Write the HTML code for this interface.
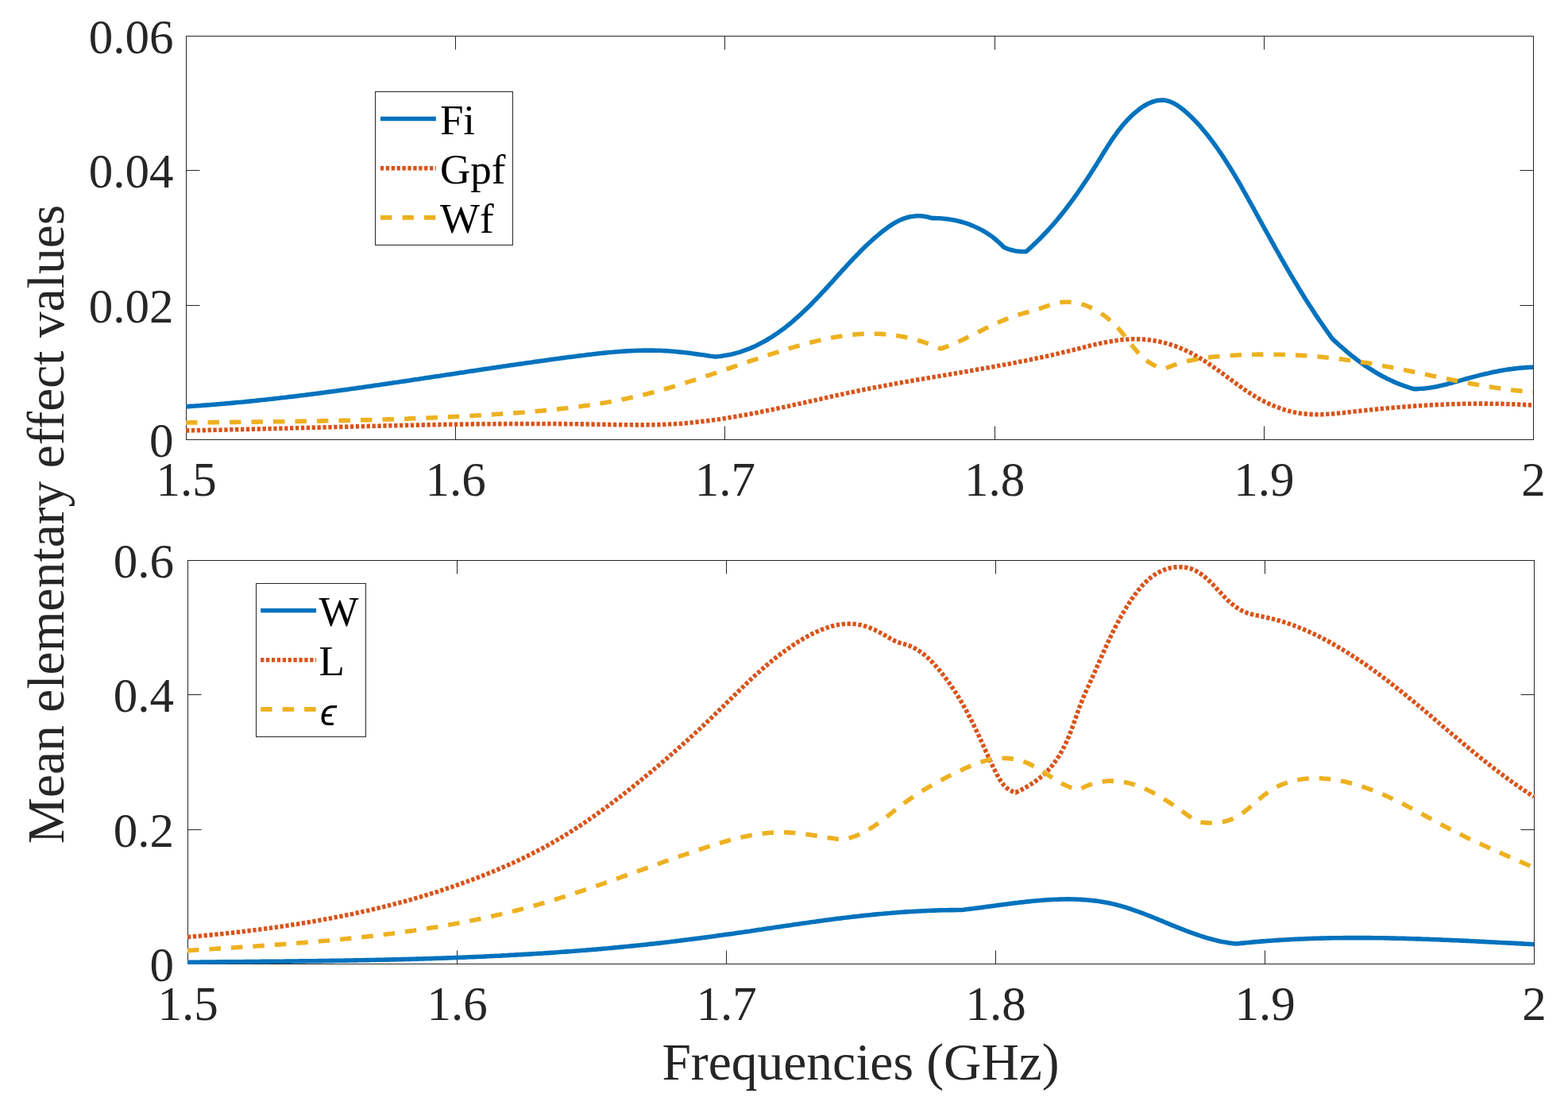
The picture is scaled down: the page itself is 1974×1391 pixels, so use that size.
<!DOCTYPE html>
<html><head><meta charset="utf-8"><title>Mean elementary effect values</title>
<style>
html,body{margin:0;padding:0;background:#fff;overflow:hidden;}
svg{display:block;}
.tk{font-family:"Liberation Serif",serif;font-size:61px;fill:#262626;}
.lg{font-family:"Liberation Serif",serif;font-size:53px;fill:#000;}
.eps{font-family:"Liberation Sans",sans-serif;font-style:italic;font-size:47px;fill:#000;}
.lb{font-family:"Liberation Serif",serif;font-size:65.5px;fill:#262626;}
</style></head><body>
<svg width="1974" height="1391" viewBox="0 0 1974 1391">
<defs>
<clipPath id="c1"><rect x="234" y="45" width="1697" height="511"/></clipPath>
<clipPath id="c2"><rect x="236" y="705" width="1696" height="511"/></clipPath>
</defs>
<rect width="1974" height="1391" fill="#fff"/>
<rect x="234.5" y="45.5" width="1696" height="508" fill="#fff" stroke="#262626" stroke-width="1"/>
<path d="M234.5 553.5V536.5M234.5 45.5V62.5M573.5 553.5V536.5M573.5 45.5V62.5M912.5 553.5V536.5M912.5 45.5V62.5M1252.5 553.5V536.5M1252.5 45.5V62.5M1591.5 553.5V536.5M1591.5 45.5V62.5M1930.5 553.5V536.5M1930.5 45.5V62.5M234.5 553.5H251.5M1930.5 553.5H1913.5M234.5 384.5H251.5M1930.5 384.5H1913.5M234.5 214.5H251.5M1930.5 214.5H1913.5M234.5 45.5H251.5M1930.5 45.5H1913.5" stroke="#262626" stroke-width="1" fill="none"/>
<text x="234.5" y="623.5" text-anchor="middle" class="tk">1.5</text>
<text x="573.7" y="623.5" text-anchor="middle" class="tk">1.6</text>
<text x="912.9" y="623.5" text-anchor="middle" class="tk">1.7</text>
<text x="1252.1" y="623.5" text-anchor="middle" class="tk">1.8</text>
<text x="1591.3" y="623.5" text-anchor="middle" class="tk">1.9</text>
<text x="1930.5" y="623.5" text-anchor="middle" class="tk">2</text>
<text x="218.5" y="575.0" text-anchor="end" class="tk">0</text>
<text x="218.5" y="405.7" text-anchor="end" class="tk">0.02</text>
<text x="218.5" y="236.3" text-anchor="end" class="tk">0.04</text>
<text x="218.5" y="67.0" text-anchor="end" class="tk">0.06</text>
<rect x="236.5" y="705.5" width="1695" height="508" fill="#fff" stroke="#262626" stroke-width="1"/>
<path d="M236.5 1213.5V1196.5M236.5 705.5V722.5M575.5 1213.5V1196.5M575.5 705.5V722.5M914.5 1213.5V1196.5M914.5 705.5V722.5M1253.5 1213.5V1196.5M1253.5 705.5V722.5M1592.5 1213.5V1196.5M1592.5 705.5V722.5M1931.5 1213.5V1196.5M1931.5 705.5V722.5M236.5 1213.5H253.5M1931.5 1213.5H1914.5M236.5 1044.5H253.5M1931.5 1044.5H1914.5M236.5 874.5H253.5M1931.5 874.5H1914.5M236.5 705.5H253.5M1931.5 705.5H1914.5" stroke="#262626" stroke-width="1" fill="none"/>
<text x="236.5" y="1283.5" text-anchor="middle" class="tk">1.5</text>
<text x="575.5" y="1283.5" text-anchor="middle" class="tk">1.6</text>
<text x="914.5" y="1283.5" text-anchor="middle" class="tk">1.7</text>
<text x="1253.5" y="1283.5" text-anchor="middle" class="tk">1.8</text>
<text x="1592.5" y="1283.5" text-anchor="middle" class="tk">1.9</text>
<text x="1931.5" y="1283.5" text-anchor="middle" class="tk">2</text>
<text x="219" y="1235.0" text-anchor="end" class="tk">0</text>
<text x="219" y="1065.7" text-anchor="end" class="tk">0.2</text>
<text x="219" y="896.3" text-anchor="end" class="tk">0.4</text>
<text x="219" y="727.0" text-anchor="end" class="tk">0.6</text>
<g clip-path="url(#c1)"><path d="M234.0 511.8L237.0 511.6L240.0 511.4L243.0 511.2L246.0 511.0L249.0 510.8L252.1 510.6L255.1 510.3L258.1 510.1L261.1 509.9L264.1 509.7L267.1 509.4L270.1 509.2L273.1 508.9L276.1 508.7L279.1 508.4L282.1 508.2L285.1 507.9L288.1 507.6L291.1 507.4L294.1 507.1L297.1 506.8L300.1 506.5L303.1 506.2L306.1 506.0L309.1 505.7L312.1 505.4L315.1 505.1L318.1 504.8L321.0 504.5L324.0 504.1L327.0 503.8L330.0 503.5L333.0 503.2L336.0 502.9L339.0 502.5L342.0 502.2L345.0 501.9L348.0 501.5L351.0 501.2L353.9 500.8L356.9 500.5L359.9 500.2L362.9 499.8L365.9 499.4L368.9 499.1L371.9 498.7L374.9 498.4L377.8 498.0L380.8 497.6L383.8 497.3L386.8 496.9L389.8 496.5L392.8 496.1L395.8 495.7L398.7 495.4L401.7 495.0L404.7 494.6L407.7 494.2L410.7 493.8L413.7 493.4L416.6 493.0L419.6 492.6L422.6 492.2L425.6 491.8L428.6 491.4L431.5 491.0L434.5 490.6L437.5 490.2L440.5 489.8L443.5 489.3L446.4 488.9L449.4 488.5L452.4 488.1L455.4 487.7L458.4 487.2L461.3 486.8L464.3 486.4L467.3 486.0L470.3 485.5L473.2 485.1L476.2 484.7L479.2 484.2L482.2 483.8L485.2 483.4L488.1 482.9L491.1 482.5L494.1 482.1L497.1 481.6L500.0 481.2L503.0 480.7L506.0 480.3L509.0 479.9L511.9 479.4L514.9 479.0L517.9 478.5L520.9 478.1L523.8 477.6L526.8 477.2L529.8 476.7L532.8 476.3L535.7 475.8L538.7 475.4L541.7 474.9L544.7 474.5L547.6 474.0L550.6 473.6L553.6 473.2L556.6 472.7L559.5 472.3L562.5 471.8L565.5 471.4L568.5 470.9L571.5 470.5L574.4 470.0L577.4 469.6L580.4 469.1L583.4 468.7L586.3 468.2L589.3 467.8L592.3 467.3L595.3 466.9L598.2 466.4L601.2 466.0L604.2 465.5L607.2 465.1L610.1 464.6L613.1 464.2L616.1 463.8L619.1 463.3L622.1 462.9L625.0 462.4L628.0 462.0L631.0 461.6L634.0 461.1L636.9 460.7L639.9 460.2L642.9 459.8L645.9 459.4L648.9 458.9L651.8 458.5L654.8 458.1L657.8 457.7L660.8 457.2L663.8 456.8L666.7 456.4L669.7 456.0L672.7 455.5L675.7 455.1L678.7 454.7L681.7 454.3L684.6 453.9L687.6 453.5L690.6 453.1L693.6 452.6L696.6 452.2L699.6 451.8L702.5 451.4L705.5 451.0L708.5 450.6L711.5 450.2L714.5 449.8L717.5 449.4L720.5 449.1L723.4 448.7L726.4 448.3L729.4 447.9L732.4 447.5L735.4 447.2L738.4 446.8L741.4 446.4L744.4 446.1L747.3 445.7L750.3 445.4L753.3 445.0L756.3 444.7L759.3 444.4L762.3 444.1L765.3 443.8L768.3 443.5L771.3 443.3L774.3 443.0L777.3 442.8L780.3 442.5L783.3 442.3L786.3 442.1L789.2 441.9L792.2 441.8L795.2 441.6L798.2 441.5L801.2 441.4L804.2 441.3L807.2 441.2L810.2 441.1L813.2 441.1L816.2 441.1L819.2 441.1L822.2 441.1L825.2 441.2L828.2 441.2L831.2 441.3L834.2 441.5L837.2 441.6L840.2 441.8L843.2 442.0L846.2 442.2L849.2 442.5L852.2 442.8L855.2 443.1L858.2 443.4L861.2 443.7L864.2 444.0L867.2 444.4L870.2 444.8L873.2 445.2L876.2 445.6L879.2 446.0L882.1 446.4L885.1 446.8L888.1 447.3L891.1 447.7L894.1 448.2L897.0 448.6L900.0 449.1L903.1 448.8L906.2 448.5L909.3 448.1L912.3 447.6L915.4 447.1L918.3 446.5L921.3 445.9L924.2 445.2L927.2 444.4L930.0 443.6L932.9 442.7L935.7 441.7L938.5 440.7L941.3 439.7L944.1 438.6L946.8 437.4L949.5 436.2L952.2 434.9L954.9 433.6L957.5 432.3L960.1 430.9L962.7 429.5L965.3 428.0L967.9 426.4L970.4 424.9L972.9 423.3L975.4 421.6L977.9 420.0L980.3 418.3L982.8 416.5L985.2 414.7L987.6 412.9L989.9 411.1L992.3 409.2L994.6 407.3L997.0 405.4L999.3 403.4L1001.5 401.4L1003.8 399.4L1006.1 397.4L1008.3 395.4L1010.5 393.3L1012.7 391.2L1014.9 389.1L1017.1 387.0L1019.2 384.9L1021.4 382.7L1023.5 380.6L1025.6 378.4L1027.7 376.2L1029.8 374.1L1031.9 371.9L1033.9 369.7L1036.0 367.4L1038.1 365.2L1040.1 363.0L1042.1 360.8L1044.1 358.6L1046.2 356.3L1048.2 354.1L1050.2 351.9L1052.2 349.6L1054.2 347.4L1056.2 345.2L1058.3 343.0L1060.3 340.7L1062.3 338.5L1064.3 336.3L1066.3 334.1L1068.4 331.9L1070.4 329.7L1072.5 327.5L1074.5 325.3L1076.6 323.2L1078.7 321.0L1080.8 318.9L1082.9 316.7L1085.0 314.6L1087.1 312.5L1089.3 310.4L1091.5 308.3L1093.7 306.3L1095.9 304.2L1098.1 302.2L1100.4 300.2L1102.6 298.2L1104.9 296.3L1107.3 294.3L1109.6 292.4L1112.0 290.5L1114.4 288.7L1116.8 286.9L1119.3 285.1L1121.8 283.4L1124.3 281.8L1126.9 280.3L1129.5 278.9L1132.2 277.5L1134.9 276.3L1137.6 275.2L1140.4 274.3L1143.2 273.5L1146.1 272.8L1149.0 272.4L1152.0 272.0L1154.9 271.8L1157.9 271.8L1160.9 272.0L1164.0 272.4L1167.0 272.9L1170.1 273.7L1173.1 274.6L1176.2 274.6L1179.2 274.7L1182.3 274.8L1185.3 275.0L1188.4 275.3L1191.4 275.6L1194.4 276.0L1197.4 276.5L1200.4 277.0L1203.4 277.6L1206.3 278.3L1209.3 279.0L1212.2 279.8L1215.1 280.7L1218.0 281.7L1220.8 282.7L1223.6 283.8L1226.4 285.0L1229.1 286.2L1231.9 287.5L1234.5 288.9L1237.2 290.3L1239.8 291.8L1242.4 293.4L1244.9 295.1L1247.4 296.8L1249.9 298.6L1252.2 300.5L1254.6 302.5L1256.9 304.5L1259.2 306.6L1261.4 308.8L1263.5 311.0L1266.4 312.4L1269.5 313.6L1272.6 314.5L1275.7 315.3L1278.9 315.9L1282.2 316.4L1285.4 316.6L1288.7 316.7L1291.9 316.6L1294.2 314.6L1296.4 312.6L1298.6 310.6L1300.8 308.5L1303.0 306.4L1305.2 304.3L1307.3 302.2L1309.5 300.1L1311.6 298.0L1313.6 295.8L1315.7 293.6L1317.8 291.5L1319.8 289.3L1321.8 287.0L1323.8 284.8L1325.8 282.5L1327.7 280.3L1329.7 278.0L1331.6 275.7L1333.5 273.4L1335.4 271.1L1337.3 268.7L1339.1 266.4L1341.0 264.0L1342.8 261.7L1344.6 259.3L1346.4 256.9L1348.2 254.5L1350.0 252.1L1351.8 249.6L1353.5 247.2L1355.3 244.8L1357.0 242.3L1358.7 239.8L1360.4 237.4L1362.1 234.9L1363.8 232.4L1365.5 229.9L1367.2 227.4L1368.8 224.9L1370.5 222.4L1372.1 219.9L1373.8 217.3L1375.4 214.8L1377.0 212.3L1378.6 209.7L1380.2 207.2L1381.8 204.6L1383.4 202.0L1385.0 199.5L1386.6 196.9L1388.1 194.3L1389.7 191.8L1391.3 189.2L1392.9 186.7L1394.5 184.1L1396.1 181.6L1397.8 179.1L1399.4 176.6L1401.1 174.1L1402.8 171.6L1404.6 169.2L1406.3 166.7L1408.1 164.3L1410.0 162.0L1411.8 159.6L1413.7 157.3L1415.7 155.0L1417.7 152.8L1419.8 150.5L1421.9 148.4L1424.1 146.2L1426.3 144.1L1428.6 142.1L1431.0 140.1L1433.4 138.2L1435.8 136.3L1438.3 134.6L1440.9 133.0L1443.5 131.5L1446.1 130.1L1448.8 129.0L1451.5 128.0L1454.2 127.2L1456.9 126.6L1459.6 126.2L1462.4 126.0L1465.1 126.1L1467.8 126.5L1470.6 127.2L1473.3 128.1L1476.0 129.3L1478.7 130.6L1481.4 132.2L1484.0 133.9L1486.6 135.8L1489.1 137.8L1491.6 139.8L1494.0 141.9L1496.4 144.1L1498.7 146.3L1500.9 148.4L1503.1 150.6L1505.2 152.8L1507.3 155.0L1509.3 157.2L1511.3 159.4L1513.2 161.7L1515.1 163.9L1517.0 166.2L1518.9 168.5L1520.7 170.8L1522.6 173.2L1524.4 175.5L1526.2 177.9L1527.9 180.3L1529.7 182.7L1531.4 185.1L1533.1 187.5L1534.8 190.0L1536.5 192.4L1538.2 194.9L1539.9 197.4L1541.5 199.9L1543.1 202.4L1544.7 204.9L1546.3 207.4L1547.9 210.0L1549.5 212.5L1551.1 215.1L1552.6 217.7L1554.2 220.2L1555.7 222.8L1557.2 225.4L1558.8 228.0L1560.3 230.6L1561.8 233.2L1563.3 235.8L1564.8 238.5L1566.2 241.1L1567.7 243.7L1569.2 246.3L1570.7 249.0L1572.1 251.6L1573.6 254.3L1575.1 256.9L1576.5 259.5L1578.0 262.2L1579.4 264.8L1580.9 267.5L1582.3 270.1L1583.8 272.7L1585.2 275.4L1586.7 278.0L1588.1 280.7L1589.6 283.3L1591.0 285.9L1592.5 288.6L1593.9 291.2L1595.4 293.8L1596.9 296.4L1598.3 299.1L1599.8 301.7L1601.2 304.3L1602.7 306.9L1604.2 309.6L1605.6 312.2L1607.1 314.8L1608.6 317.4L1610.1 320.0L1611.5 322.6L1613.0 325.2L1614.5 327.8L1616.0 330.4L1617.5 333.0L1619.0 335.6L1620.5 338.2L1622.0 340.8L1623.5 343.4L1625.0 346.0L1626.6 348.6L1628.1 351.1L1629.6 353.7L1631.2 356.3L1632.7 358.8L1634.3 361.4L1635.8 364.0L1637.4 366.5L1638.9 369.1L1640.5 371.6L1642.1 374.2L1643.7 376.7L1645.3 379.2L1646.9 381.8L1648.5 384.3L1650.2 386.8L1651.8 389.3L1653.4 391.8L1655.1 394.4L1656.7 396.9L1658.4 399.4L1660.1 401.9L1661.8 404.3L1663.5 406.8L1665.2 409.3L1666.9 411.8L1668.6 414.2L1670.3 416.7L1672.1 419.2L1673.9 421.6L1675.6 424.1L1677.4 426.5L1679.6 428.6L1681.8 430.6L1684.1 432.7L1686.3 434.7L1688.6 436.7L1690.9 438.7L1693.2 440.7L1695.5 442.7L1697.9 444.6L1700.2 446.6L1702.6 448.5L1705.0 450.3L1707.4 452.2L1709.9 454.0L1712.3 455.8L1714.8 457.6L1717.3 459.4L1719.8 461.1L1722.3 462.8L1724.9 464.4L1727.5 466.0L1730.0 467.6L1732.6 469.2L1735.3 470.7L1737.9 472.2L1740.6 473.7L1743.3 475.1L1746.0 476.5L1748.7 477.8L1751.4 479.1L1754.2 480.4L1757.0 481.6L1759.8 482.7L1762.6 483.9L1765.5 484.9L1768.3 486.0L1771.2 486.9L1774.1 487.9L1777.0 488.8L1780.0 489.6L1783.0 489.6L1786.0 489.5L1789.0 489.3L1791.9 489.1L1794.9 488.8L1797.8 488.4L1800.8 488.0L1803.7 487.5L1806.7 487.0L1809.6 486.4L1812.5 485.8L1815.4 485.1L1818.3 484.4L1821.2 483.7L1824.1 482.9L1827.0 482.2L1829.9 481.4L1832.8 480.6L1835.7 479.8L1838.6 478.9L1841.5 478.1L1844.4 477.3L1847.3 476.5L1850.2 475.7L1853.1 474.9L1856.0 474.1L1858.9 473.4L1861.8 472.6L1864.7 471.9L1867.7 471.2L1870.6 470.5L1873.5 469.9L1876.4 469.2L1879.4 468.6L1882.3 468.0L1885.3 467.4L1888.2 466.8L1891.2 466.3L1894.1 465.8L1897.1 465.3L1900.1 464.9L1903.0 464.5L1906.0 464.1L1909.0 463.7L1912.0 463.4L1915.0 463.1L1918.0 462.9L1921.0 462.6L1924.0 462.5L1927.0 462.3L1930.0 462.2" fill="none" stroke="#0072BD" stroke-width="5.6" stroke-linejoin="round"/><path d="M234.0 542.0L237.0 541.9L240.0 541.9L243.0 541.8L246.0 541.8L249.0 541.7L252.0 541.7L255.0 541.6L258.0 541.6L261.0 541.5L264.0 541.4L267.0 541.4L270.0 541.3L273.0 541.2L276.0 541.2L279.0 541.1L282.0 541.0L285.0 541.0L288.0 540.9L291.0 540.8L294.0 540.8L297.0 540.7L300.0 540.6L303.0 540.6L306.0 540.5L309.0 540.4L312.0 540.4L315.0 540.3L318.0 540.2L321.0 540.1L324.0 540.1L327.0 540.0L330.0 539.9L333.0 539.8L336.0 539.8L339.0 539.7L342.0 539.6L345.0 539.5L348.0 539.5L351.0 539.4L354.0 539.3L357.0 539.2L360.0 539.2L363.0 539.1L366.0 539.0L369.0 538.9L372.0 538.8L375.0 538.8L378.0 538.7L381.0 538.6L384.0 538.5L387.0 538.5L390.0 538.4L393.0 538.3L396.0 538.2L399.0 538.1L402.0 538.1L405.0 538.0L408.0 537.9L411.0 537.8L414.0 537.7L417.0 537.7L420.0 537.6L423.0 537.5L426.0 537.4L429.0 537.4L432.0 537.3L435.0 537.2L438.0 537.1L441.0 537.0L444.0 537.0L447.0 536.9L450.0 536.8L453.0 536.7L456.0 536.7L459.0 536.6L462.0 536.5L465.0 536.4L468.0 536.4L471.0 536.3L474.0 536.2L477.0 536.2L480.0 536.1L483.0 536.0L486.0 535.9L489.0 535.9L492.0 535.8L495.0 535.7L498.0 535.7L501.0 535.6L504.0 535.5L507.0 535.5L510.0 535.4L513.0 535.3L516.0 535.3L519.0 535.2L522.0 535.2L525.0 535.1L528.0 535.0L531.0 535.0L534.0 534.9L537.0 534.9L540.0 534.8L543.0 534.7L546.0 534.7L549.0 534.6L552.0 534.6L555.0 534.5L558.0 534.5L561.0 534.4L564.0 534.4L567.0 534.3L570.0 534.3L573.0 534.2L576.0 534.2L579.0 534.1L582.0 534.1L585.0 534.1L588.0 534.0L591.0 534.0L594.0 533.9L597.0 533.9L600.0 533.9L603.0 533.8L606.0 533.8L609.0 533.8L612.0 533.7L615.0 533.7L618.0 533.7L621.0 533.7L624.1 533.6L627.1 533.6L630.1 533.6L633.1 533.6L636.1 533.6L639.1 533.5L642.1 533.5L645.1 533.5L648.1 533.5L651.1 533.5L654.1 533.5L657.1 533.5L660.1 533.5L663.1 533.5L666.1 533.5L669.1 533.5L672.1 533.5L675.1 533.5L678.1 533.5L681.1 533.5L684.1 533.5L687.1 533.5L690.1 533.5L693.1 533.5L696.1 533.5L699.1 533.5L702.1 533.6L705.1 533.6L708.1 533.6L711.1 533.6L714.1 533.7L717.1 533.7L720.1 533.7L723.1 533.7L726.1 533.8L729.1 533.8L732.1 533.9L735.1 533.9L738.1 533.9L741.1 534.0L744.1 534.0L747.1 534.1L750.1 534.1L753.1 534.2L756.1 534.2L759.1 534.3L762.1 534.4L765.1 534.4L768.1 534.5L771.1 534.5L774.1 534.6L777.1 534.6L780.1 534.7L783.2 534.7L786.2 534.8L789.2 534.8L792.2 534.8L795.2 534.8L798.2 534.9L801.2 534.9L804.2 534.9L807.2 534.9L810.2 534.9L813.2 534.8L816.2 534.8L819.1 534.8L822.1 534.7L825.1 534.7L828.1 534.6L831.1 534.5L834.1 534.4L837.1 534.3L840.1 534.1L843.1 534.0L846.1 533.8L849.1 533.7L852.1 533.5L855.1 533.3L858.1 533.1L861.1 532.8L864.0 532.6L867.0 532.3L870.0 532.0L873.0 531.7L876.0 531.4L879.0 531.1L881.9 530.8L884.9 530.4L887.9 530.1L890.9 529.7L893.9 529.3L896.8 528.9L899.8 528.5L902.8 528.1L905.7 527.7L908.7 527.2L911.7 526.8L914.7 526.3L917.6 525.8L920.6 525.3L923.5 524.9L926.5 524.3L929.5 523.8L932.4 523.3L935.4 522.8L938.3 522.3L941.3 521.7L944.2 521.2L947.2 520.6L950.1 520.0L953.1 519.5L956.0 518.9L959.0 518.3L961.9 517.7L964.9 517.1L967.8 516.5L970.8 515.9L973.7 515.3L976.6 514.7L979.6 514.0L982.5 513.4L985.5 512.8L988.4 512.1L991.3 511.5L994.3 510.9L997.2 510.2L1000.1 509.6L1003.1 508.9L1006.0 508.3L1008.9 507.6L1011.9 507.0L1014.8 506.3L1017.7 505.6L1020.7 505.0L1023.6 504.3L1026.5 503.7L1029.5 503.0L1032.4 502.4L1035.3 501.7L1038.3 501.1L1041.2 500.4L1044.1 499.8L1047.1 499.1L1050.0 498.5L1052.9 497.8L1055.9 497.2L1058.8 496.5L1061.7 495.9L1064.7 495.3L1067.6 494.6L1070.5 494.0L1073.5 493.4L1076.4 492.8L1079.3 492.2L1082.3 491.6L1085.2 491.0L1088.1 490.4L1091.1 489.8L1094.0 489.2L1096.9 488.6L1099.9 488.0L1102.8 487.5L1105.8 486.9L1108.7 486.4L1111.7 485.8L1114.6 485.3L1117.5 484.7L1120.5 484.2L1123.4 483.6L1126.4 483.1L1129.3 482.6L1132.3 482.0L1135.2 481.5L1138.2 481.0L1141.1 480.5L1144.0 479.9L1147.0 479.4L1149.9 478.9L1152.9 478.4L1155.8 477.9L1158.8 477.4L1161.7 476.9L1164.7 476.4L1167.6 475.9L1170.6 475.4L1173.5 474.9L1176.5 474.4L1179.4 473.9L1182.4 473.4L1185.3 472.9L1188.3 472.4L1191.2 471.9L1194.2 471.4L1197.1 470.9L1200.1 470.4L1203.0 469.9L1206.0 469.4L1208.9 468.9L1211.9 468.4L1214.8 467.9L1217.8 467.4L1220.7 466.9L1223.7 466.4L1226.7 465.9L1229.6 465.3L1232.6 464.8L1235.5 464.3L1238.5 463.8L1241.4 463.3L1244.4 462.8L1247.3 462.2L1250.3 461.7L1253.2 461.2L1256.2 460.6L1259.1 460.1L1262.1 459.5L1265.0 459.0L1268.0 458.4L1270.9 457.9L1273.9 457.3L1276.8 456.8L1279.8 456.2L1282.7 455.6L1285.6 455.0L1288.6 454.4L1291.5 453.9L1294.5 453.3L1297.4 452.7L1300.4 452.0L1303.3 451.4L1306.3 450.8L1309.2 450.2L1312.2 449.6L1315.1 448.9L1318.0 448.3L1321.0 447.6L1323.9 447.0L1326.9 446.3L1329.8 445.6L1332.7 444.9L1335.7 444.2L1338.6 443.5L1341.6 442.8L1344.5 442.1L1347.4 441.4L1350.4 440.7L1353.3 439.9L1356.2 439.2L1359.2 438.5L1362.1 437.7L1365.1 437.0L1368.0 436.2L1370.9 435.5L1373.9 434.8L1376.8 434.1L1379.7 433.4L1382.7 432.8L1385.6 432.1L1388.5 431.5L1391.5 430.9L1394.4 430.4L1397.4 429.9L1400.3 429.4L1403.2 428.9L1406.2 428.5L1409.1 428.1L1412.1 427.8L1415.0 427.5L1418.0 427.2L1420.9 427.1L1423.9 426.9L1426.9 426.8L1429.8 426.8L1432.8 426.9L1435.8 427.0L1438.7 427.1L1441.7 427.4L1444.7 427.6L1447.6 428.0L1450.6 428.4L1453.5 428.9L1456.5 429.4L1459.4 430.0L1462.4 430.7L1465.3 431.4L1468.2 432.1L1471.1 433.0L1473.9 433.8L1476.8 434.8L1479.6 435.7L1482.4 436.8L1485.2 437.9L1488.0 439.0L1490.7 440.2L1493.5 441.5L1496.2 442.8L1498.8 444.1L1501.5 445.5L1504.1 447.0L1506.7 448.5L1509.3 450.0L1511.8 451.5L1514.4 453.1L1516.9 454.7L1519.4 456.4L1521.9 458.1L1524.4 459.7L1526.9 461.5L1529.4 463.2L1531.8 465.0L1534.3 466.7L1536.7 468.5L1539.2 470.3L1541.6 472.1L1544.1 473.9L1546.5 475.7L1549.0 477.5L1551.4 479.3L1553.9 481.1L1556.3 482.9L1558.8 484.7L1561.2 486.5L1563.7 488.2L1566.2 490.0L1568.7 491.7L1571.2 493.3L1573.7 495.0L1576.3 496.6L1578.8 498.2L1581.4 499.7L1584.0 501.3L1586.6 502.7L1589.2 504.1L1591.8 505.5L1594.5 506.8L1597.2 508.1L1599.9 509.3L1602.6 510.5L1605.4 511.6L1608.1 512.7L1610.9 513.7L1613.7 514.7L1616.5 515.6L1619.4 516.4L1622.2 517.2L1625.1 517.9L1627.9 518.6L1630.8 519.2L1633.7 519.7L1636.6 520.2L1639.5 520.6L1642.5 520.9L1645.4 521.2L1648.3 521.4L1651.3 521.6L1654.3 521.7L1657.2 521.8L1660.2 521.7L1663.2 521.7L1666.2 521.6L1669.2 521.5L1672.2 521.3L1675.2 521.1L1678.2 520.9L1681.2 520.6L1684.2 520.3L1687.2 520.0L1690.2 519.7L1693.2 519.4L1696.2 519.1L1699.3 518.7L1702.3 518.4L1705.3 518.0L1708.3 517.7L1711.3 517.4L1714.3 517.0L1717.3 516.7L1720.3 516.4L1723.3 516.1L1726.3 515.8L1729.3 515.5L1732.3 515.2L1735.3 514.9L1738.3 514.6L1741.3 514.3L1744.3 514.0L1747.3 513.7L1750.3 513.5L1753.3 513.2L1756.3 513.0L1759.3 512.7L1762.3 512.5L1765.3 512.2L1768.3 512.0L1771.3 511.8L1774.3 511.6L1777.2 511.3L1780.2 511.1L1783.2 510.9L1786.2 510.7L1789.2 510.6L1792.2 510.4L1795.2 510.2L1798.1 510.0L1801.1 509.9L1804.1 509.7L1807.1 509.6L1810.1 509.4L1813.1 509.3L1816.1 509.2L1819.0 509.0L1822.0 508.9L1825.0 508.8L1828.0 508.7L1831.0 508.6L1834.0 508.5L1837.0 508.5L1839.9 508.4L1842.9 508.3L1845.9 508.3L1848.9 508.2L1851.9 508.2L1854.9 508.2L1857.9 508.1L1860.9 508.1L1863.9 508.1L1866.9 508.1L1869.9 508.1L1872.9 508.1L1875.8 508.2L1878.8 508.2L1881.8 508.2L1884.8 508.3L1887.8 508.3L1890.8 508.4L1893.8 508.5L1896.9 508.6L1899.9 508.7L1902.9 508.8L1905.9 508.9L1908.9 509.0L1911.9 509.1L1914.9 509.3L1917.9 509.4L1920.9 509.6L1924.0 509.7L1927.0 509.9L1930.0 510.1" fill="none" stroke="#D95319" stroke-width="5.6" stroke-linejoin="round" stroke-dasharray="4.3 2.6"/><path d="M234.0 532.0L237.0 532.0L240.0 531.9L243.0 531.9L246.0 531.9L249.0 531.8L252.0 531.8L255.0 531.8L258.1 531.8L261.1 531.7L264.1 531.7L267.1 531.7L270.1 531.6L273.1 531.6L276.1 531.6L279.1 531.6L282.1 531.5L285.1 531.5L288.1 531.5L291.1 531.4L294.1 531.4L297.1 531.4L300.1 531.3L303.1 531.3L306.1 531.3L309.1 531.2L312.1 531.2L315.1 531.2L318.1 531.1L321.1 531.1L324.1 531.1L327.1 531.0L330.1 531.0L333.1 531.0L336.1 530.9L339.1 530.9L342.1 530.9L345.1 530.8L348.1 530.8L351.1 530.8L354.1 530.7L357.1 530.7L360.1 530.6L363.1 530.6L366.1 530.5L369.1 530.5L372.1 530.5L375.1 530.4L378.1 530.4L381.1 530.3L384.1 530.3L387.1 530.2L390.1 530.2L393.1 530.1L396.1 530.1L399.1 530.0L402.1 530.0L405.1 529.9L408.0 529.9L411.0 529.8L414.0 529.7L417.0 529.7L420.0 529.6L423.0 529.6L426.0 529.5L429.0 529.4L432.0 529.4L435.0 529.3L438.0 529.2L441.0 529.2L444.0 529.1L447.0 529.0L450.0 529.0L453.0 528.9L456.0 528.8L459.0 528.7L462.0 528.6L465.0 528.6L468.0 528.5L471.0 528.4L473.9 528.3L476.9 528.2L479.9 528.1L482.9 528.0L485.9 528.0L488.9 527.9L491.9 527.8L494.9 527.7L497.9 527.6L500.9 527.5L503.9 527.4L506.9 527.3L509.9 527.2L512.9 527.1L515.9 526.9L518.9 526.8L521.9 526.7L524.9 526.6L527.9 526.5L530.9 526.4L533.9 526.2L536.8 526.1L539.8 526.0L542.8 525.9L545.8 525.7L548.8 525.6L551.8 525.5L554.8 525.3L557.8 525.2L560.8 525.1L563.8 524.9L566.8 524.8L569.8 524.6L572.8 524.5L575.8 524.3L578.8 524.2L581.8 524.0L584.8 523.8L587.8 523.7L590.8 523.5L593.8 523.4L596.8 523.2L599.8 523.0L602.8 522.8L605.8 522.7L608.8 522.5L611.8 522.3L614.8 522.1L617.8 521.9L620.8 521.7L623.8 521.5L626.8 521.3L629.8 521.1L632.8 520.9L635.8 520.7L638.8 520.5L641.8 520.3L644.8 520.1L647.8 519.9L650.8 519.7L653.8 519.4L656.8 519.2L659.8 519.0L662.8 518.7L665.8 518.5L668.8 518.2L671.8 518.0L674.8 517.7L677.8 517.4L680.8 517.2L683.8 516.9L686.8 516.6L689.8 516.3L692.8 516.0L695.7 515.7L698.7 515.4L701.7 515.1L704.7 514.7L707.7 514.4L710.7 514.0L713.7 513.7L716.6 513.3L719.6 513.0L722.6 512.6L725.6 512.2L728.6 511.8L731.5 511.4L734.5 511.0L737.5 510.6L740.4 510.2L743.4 509.7L746.4 509.3L749.3 508.8L752.3 508.4L755.2 507.9L758.2 507.4L761.2 506.9L764.1 506.4L767.1 505.9L770.0 505.4L772.9 504.8L775.9 504.3L778.8 503.7L781.8 503.1L784.7 502.5L787.6 501.9L790.5 501.3L793.5 500.7L796.4 500.1L799.3 499.4L802.2 498.8L805.1 498.1L808.0 497.4L811.0 496.7L813.9 496.0L816.8 495.3L819.7 494.5L822.5 493.8L825.4 493.0L828.3 492.2L831.2 491.4L834.1 490.6L837.0 489.8L839.8 489.0L842.7 488.1L845.6 487.3L848.5 486.4L851.3 485.6L854.2 484.7L857.1 483.8L859.9 482.9L862.8 482.0L865.6 481.1L868.5 480.2L871.4 479.3L874.2 478.4L877.1 477.5L879.9 476.5L882.8 475.6L885.6 474.6L888.5 473.7L891.3 472.7L894.2 471.8L897.0 470.8L899.9 469.8L902.7 468.9L905.5 467.9L908.4 466.9L911.2 465.9L914.1 465.0L916.9 464.0L919.8 463.0L922.6 462.0L925.5 461.1L928.3 460.1L931.2 459.1L934.0 458.1L936.9 457.1L939.7 456.2L942.6 455.2L945.4 454.2L948.3 453.3L951.1 452.3L954.0 451.4L956.8 450.4L959.7 449.5L962.5 448.5L965.4 447.6L968.3 446.6L971.1 445.7L974.0 444.8L976.9 443.9L979.8 443.0L982.6 442.1L985.5 441.2L988.4 440.3L991.3 439.4L994.1 438.5L997.0 437.7L999.9 436.8L1002.8 436.0L1005.7 435.2L1008.6 434.3L1011.5 433.5L1014.4 432.8L1017.3 432.0L1020.2 431.2L1023.1 430.5L1026.1 429.8L1029.0 429.1L1031.9 428.4L1034.8 427.7L1037.7 427.1L1040.7 426.4L1043.6 425.9L1046.5 425.3L1049.4 424.7L1052.4 424.2L1055.3 423.7L1058.2 423.2L1061.2 422.8L1064.1 422.4L1067.1 422.0L1070.0 421.7L1073.0 421.4L1075.9 421.1L1078.8 420.8L1081.8 420.6L1084.7 420.4L1087.7 420.3L1090.6 420.2L1093.6 420.1L1096.5 420.1L1099.5 420.1L1102.5 420.2L1105.4 420.3L1108.4 420.4L1111.3 420.6L1114.3 420.8L1117.2 421.1L1120.2 421.4L1123.1 421.8L1126.1 422.1L1129.0 422.6L1132.0 423.1L1134.9 423.6L1137.9 424.1L1140.8 424.7L1143.7 425.4L1146.7 426.1L1149.6 426.8L1152.5 427.6L1155.4 428.4L1158.4 429.3L1161.3 430.2L1164.2 431.1L1167.1 432.1L1170.0 433.2L1172.8 434.2L1175.7 435.4L1178.6 436.5L1181.4 437.7L1184.3 439.0L1187.1 438.0L1189.9 437.0L1192.7 436.0L1195.4 434.9L1198.2 433.7L1200.9 432.6L1203.7 431.4L1206.4 430.2L1209.1 428.9L1211.8 427.7L1214.6 426.4L1217.3 425.1L1220.0 423.8L1222.7 422.4L1225.4 421.1L1228.1 419.8L1230.8 418.4L1233.5 417.1L1236.1 415.7L1238.9 414.4L1241.6 413.1L1244.3 411.8L1247.0 410.5L1249.7 409.2L1252.4 407.9L1255.2 406.7L1257.9 405.4L1260.7 404.2L1263.4 403.1L1266.2 401.9L1269.0 400.9L1271.8 399.8L1274.6 398.8L1277.4 397.8L1280.2 396.9L1283.1 396.0L1286.0 395.1L1288.8 394.3L1291.7 393.5L1294.6 392.7L1297.5 391.9L1300.4 391.1L1303.3 390.2L1306.2 389.3L1309.1 388.4L1312.0 387.4L1314.8 386.4L1317.7 385.3L1320.6 384.4L1323.5 383.4L1326.4 382.6L1329.2 381.8L1332.2 381.2L1335.1 380.7L1338.0 380.4L1341.0 380.2L1343.9 380.2L1346.9 380.3L1349.8 380.6L1352.7 380.9L1355.6 381.4L1358.5 382.1L1361.4 382.8L1364.2 383.7L1367.1 384.7L1369.8 385.7L1372.6 386.9L1375.3 388.2L1378.0 389.6L1380.7 391.0L1383.3 392.6L1385.9 394.2L1388.4 396.0L1390.9 397.8L1393.3 399.6L1395.7 401.6L1398.0 403.6L1400.3 405.6L1402.5 407.8L1404.7 409.9L1406.8 412.2L1408.9 414.5L1410.9 416.8L1412.8 419.1L1414.7 421.5L1416.6 423.9L1418.4 426.3L1420.3 428.6L1422.1 431.0L1424.0 433.4L1425.8 435.7L1427.7 438.0L1429.6 440.3L1431.5 442.5L1433.5 444.7L1435.5 446.8L1437.6 448.8L1439.7 450.8L1441.9 452.6L1444.2 454.4L1446.6 456.1L1449.0 457.6L1451.6 459.1L1454.3 460.4L1457.1 461.6L1460.0 462.6L1463.1 463.5L1466.3 464.2L1469.1 463.0L1471.9 461.8L1474.7 460.8L1477.5 459.7L1480.4 458.8L1483.2 457.8L1486.1 457.0L1488.9 456.2L1491.8 455.4L1494.7 454.7L1497.6 454.0L1500.6 453.4L1503.5 452.8L1506.4 452.2L1509.4 451.7L1512.3 451.2L1515.3 450.8L1518.3 450.4L1521.2 450.0L1524.2 449.6L1527.2 449.3L1530.2 449.0L1533.2 448.7L1536.2 448.4L1539.2 448.2L1542.2 448.0L1545.2 447.7L1548.3 447.5L1551.3 447.4L1554.3 447.2L1557.3 447.0L1560.3 446.9L1563.3 446.7L1566.4 446.6L1569.4 446.5L1572.4 446.4L1575.4 446.3L1578.5 446.2L1581.5 446.2L1584.5 446.1L1587.5 446.1L1590.6 446.1L1593.6 446.1L1596.6 446.1L1599.6 446.1L1602.6 446.1L1605.6 446.2L1608.7 446.2L1611.7 446.3L1614.7 446.4L1617.7 446.5L1620.7 446.6L1623.7 446.7L1626.7 446.8L1629.7 447.0L1632.7 447.1L1635.7 447.3L1638.7 447.4L1641.7 447.6L1644.7 447.8L1647.7 448.0L1650.7 448.3L1653.7 448.5L1656.7 448.8L1659.7 449.0L1662.7 449.3L1665.7 449.6L1668.7 449.9L1671.7 450.2L1674.7 450.5L1677.7 450.8L1680.6 451.2L1683.6 451.5L1686.6 451.9L1689.6 452.3L1692.6 452.7L1695.6 453.1L1698.5 453.5L1701.5 453.9L1704.5 454.3L1707.5 454.8L1710.4 455.2L1713.4 455.7L1716.4 456.2L1719.3 456.6L1722.3 457.1L1725.3 457.6L1728.2 458.2L1731.2 458.7L1734.2 459.2L1737.1 459.8L1740.1 460.3L1743.0 460.9L1746.0 461.4L1749.0 462.0L1751.9 462.6L1754.9 463.1L1757.8 463.7L1760.8 464.3L1763.7 464.9L1766.7 465.5L1769.7 466.1L1772.6 466.7L1775.6 467.3L1778.5 467.9L1781.5 468.5L1784.4 469.2L1787.4 469.8L1790.3 470.4L1793.3 471.0L1796.2 471.6L1799.2 472.2L1802.1 472.9L1805.1 473.5L1808.1 474.1L1811.0 474.7L1814.0 475.3L1816.9 475.9L1819.9 476.5L1822.8 477.1L1825.8 477.7L1828.7 478.3L1831.7 478.9L1834.7 479.5L1837.6 480.1L1840.6 480.7L1843.5 481.2L1846.5 481.8L1849.5 482.4L1852.4 482.9L1855.4 483.5L1858.4 484.0L1861.3 484.5L1864.3 485.0L1867.3 485.6L1870.2 486.1L1873.2 486.5L1876.2 487.0L1879.2 487.5L1882.1 488.0L1885.1 488.4L1888.1 488.9L1891.1 489.3L1894.1 489.7L1897.0 490.1L1900.0 490.5L1903.0 490.9L1906.0 491.2L1909.0 491.6L1912.0 491.9L1915.0 492.2L1918.0 492.5L1921.0 492.8L1924.0 493.1L1927.0 493.4L1930.0 493.6" fill="none" stroke="#EDB120" stroke-width="5.6" stroke-linejoin="round" stroke-dasharray="14.5 13"/></g>
<g clip-path="url(#c2)"><path d="M236.0 1211.3L239.0 1211.3L242.0 1211.2L245.0 1211.2L248.0 1211.2L251.0 1211.2L254.0 1211.1L257.0 1211.1L260.0 1211.1L263.0 1211.0L266.0 1211.0L269.0 1211.0L272.0 1211.0L275.1 1210.9L278.1 1210.9L281.1 1210.9L284.1 1210.9L287.1 1210.8L290.1 1210.8L293.1 1210.8L296.1 1210.7L299.1 1210.7L302.1 1210.7L305.1 1210.7L308.1 1210.6L311.1 1210.6L314.1 1210.6L317.1 1210.6L320.1 1210.5L323.1 1210.5L326.2 1210.5L329.2 1210.4L332.2 1210.4L335.2 1210.4L338.2 1210.4L341.2 1210.3L344.2 1210.3L347.2 1210.3L350.2 1210.2L353.2 1210.2L356.2 1210.2L359.2 1210.1L362.2 1210.1L365.2 1210.1L368.3 1210.0L371.3 1210.0L374.3 1210.0L377.3 1209.9L380.3 1209.9L383.3 1209.9L386.3 1209.8L389.3 1209.8L392.3 1209.7L395.3 1209.7L398.3 1209.7L401.3 1209.6L404.4 1209.6L407.4 1209.5L410.4 1209.5L413.4 1209.5L416.4 1209.4L419.4 1209.4L422.4 1209.3L425.4 1209.3L428.4 1209.2L431.4 1209.2L434.4 1209.1L437.4 1209.1L440.5 1209.0L443.5 1209.0L446.5 1208.9L449.5 1208.9L452.5 1208.8L455.5 1208.8L458.5 1208.7L461.5 1208.6L464.5 1208.6L467.5 1208.5L470.5 1208.5L473.6 1208.4L476.6 1208.3L479.6 1208.3L482.6 1208.2L485.6 1208.1L488.6 1208.1L491.6 1208.0L494.6 1207.9L497.6 1207.9L500.6 1207.8L503.6 1207.7L506.6 1207.6L509.7 1207.5L512.7 1207.5L515.7 1207.4L518.7 1207.3L521.7 1207.2L524.7 1207.1L527.7 1207.0L530.7 1207.0L533.7 1206.9L536.7 1206.8L539.7 1206.7L542.7 1206.6L545.7 1206.5L548.7 1206.4L551.8 1206.3L554.8 1206.2L557.8 1206.1L560.8 1206.0L563.8 1205.9L566.8 1205.8L569.8 1205.7L572.8 1205.5L575.8 1205.4L578.8 1205.3L581.8 1205.2L584.8 1205.1L587.8 1205.0L590.8 1204.8L593.8 1204.7L596.8 1204.6L599.9 1204.5L602.9 1204.3L605.9 1204.2L608.9 1204.1L611.9 1203.9L614.9 1203.8L617.9 1203.6L620.9 1203.5L623.9 1203.3L626.9 1203.2L629.9 1203.1L632.9 1202.9L635.9 1202.7L638.9 1202.6L641.9 1202.4L644.9 1202.3L647.9 1202.1L650.9 1201.9L653.9 1201.8L656.9 1201.6L659.9 1201.4L662.9 1201.3L665.9 1201.1L668.9 1200.9L671.9 1200.7L674.9 1200.5L677.9 1200.3L680.9 1200.2L683.9 1200.0L686.9 1199.8L689.9 1199.6L692.9 1199.4L695.9 1199.2L698.9 1199.0L701.9 1198.8L704.9 1198.5L707.9 1198.3L710.9 1198.1L713.9 1197.9L716.9 1197.7L719.9 1197.5L722.9 1197.2L725.9 1197.0L728.9 1196.8L731.9 1196.5L734.9 1196.3L737.9 1196.1L740.9 1195.8L743.9 1195.6L746.9 1195.3L749.9 1195.1L752.9 1194.8L755.9 1194.6L758.9 1194.3L761.9 1194.0L764.9 1193.8L767.9 1193.5L770.9 1193.2L773.9 1192.9L776.8 1192.7L779.8 1192.4L782.8 1192.1L785.8 1191.8L788.8 1191.5L791.8 1191.2L794.8 1190.9L797.8 1190.6L800.8 1190.3L803.8 1190.0L806.8 1189.7L809.8 1189.4L812.7 1189.1L815.7 1188.7L818.7 1188.4L821.7 1188.1L824.7 1187.8L827.7 1187.4L830.7 1187.1L833.7 1186.7L836.7 1186.4L839.6 1186.0L842.6 1185.7L845.6 1185.3L848.6 1185.0L851.6 1184.6L854.6 1184.3L857.6 1183.9L860.5 1183.5L863.5 1183.1L866.5 1182.8L869.5 1182.4L872.5 1182.0L875.5 1181.6L878.4 1181.2L881.4 1180.9L884.4 1180.5L887.4 1180.1L890.4 1179.7L893.4 1179.3L896.3 1178.9L899.3 1178.5L902.3 1178.1L905.3 1177.6L908.3 1177.2L911.2 1176.8L914.2 1176.4L917.2 1176.0L920.2 1175.6L923.2 1175.2L926.1 1174.7L929.1 1174.3L932.1 1173.9L935.1 1173.5L938.0 1173.0L941.0 1172.6L944.0 1172.2L947.0 1171.7L950.0 1171.3L952.9 1170.8L955.9 1170.4L958.9 1170.0L961.9 1169.5L964.8 1169.1L967.8 1168.6L970.8 1168.2L973.8 1167.8L976.7 1167.3L979.7 1166.9L982.7 1166.4L985.7 1166.0L988.6 1165.6L991.6 1165.1L994.6 1164.7L997.6 1164.2L1000.5 1163.8L1003.5 1163.4L1006.5 1162.9L1009.5 1162.5L1012.4 1162.1L1015.4 1161.7L1018.4 1161.2L1021.4 1160.8L1024.3 1160.4L1027.3 1160.0L1030.3 1159.6L1033.3 1159.2L1036.2 1158.8L1039.2 1158.4L1042.2 1158.0L1045.2 1157.6L1048.2 1157.2L1051.1 1156.8L1054.1 1156.4L1057.1 1156.1L1060.1 1155.7L1063.1 1155.3L1066.0 1155.0L1069.0 1154.6L1072.0 1154.3L1075.0 1153.9L1078.0 1153.6L1081.0 1153.3L1083.9 1152.9L1086.9 1152.6L1089.9 1152.3L1092.9 1152.0L1095.9 1151.7L1098.9 1151.4L1101.9 1151.1L1104.9 1150.8L1107.8 1150.5L1110.8 1150.3L1113.8 1150.0L1116.8 1149.7L1119.8 1149.5L1122.8 1149.2L1125.8 1149.0L1128.8 1148.8L1131.8 1148.5L1134.8 1148.3L1137.8 1148.1L1140.8 1147.9L1143.8 1147.7L1146.8 1147.5L1149.8 1147.4L1152.8 1147.2L1155.8 1147.0L1158.8 1146.9L1161.8 1146.7L1164.8 1146.6L1167.8 1146.5L1170.8 1146.3L1173.8 1146.2L1176.8 1146.1L1179.8 1146.0L1182.9 1145.9L1185.9 1145.8L1188.9 1145.8L1191.9 1145.7L1194.9 1145.6L1197.9 1145.6L1200.9 1145.6L1204.0 1145.5L1207.0 1145.5L1210.0 1145.5L1212.9 1145.2L1215.9 1144.8L1218.8 1144.5L1221.8 1144.1L1224.7 1143.8L1227.7 1143.4L1230.7 1143.0L1233.7 1142.6L1236.7 1142.2L1239.6 1141.8L1242.6 1141.4L1245.6 1141.0L1248.6 1140.6L1251.7 1140.2L1254.7 1139.8L1257.7 1139.4L1260.7 1139.0L1263.7 1138.6L1266.7 1138.2L1269.8 1137.8L1272.8 1137.4L1275.8 1137.0L1278.9 1136.6L1281.9 1136.3L1284.9 1135.9L1288.0 1135.6L1291.0 1135.2L1294.1 1134.9L1297.1 1134.6L1300.1 1134.3L1303.2 1134.0L1306.2 1133.7L1309.3 1133.5L1312.3 1133.2L1315.3 1133.0L1318.4 1132.8L1321.4 1132.6L1324.4 1132.5L1327.5 1132.3L1330.5 1132.2L1333.5 1132.1L1336.6 1132.0L1339.6 1132.0L1342.6 1131.9L1345.6 1131.9L1348.6 1132.0L1351.6 1132.0L1354.6 1132.1L1357.6 1132.2L1360.6 1132.4L1363.6 1132.6L1366.6 1132.8L1369.6 1133.0L1372.6 1133.3L1375.5 1133.6L1378.5 1133.9L1381.5 1134.3L1384.4 1134.7L1387.4 1135.2L1390.3 1135.7L1393.2 1136.2L1396.2 1136.8L1399.1 1137.4L1402.0 1138.1L1404.9 1138.8L1407.8 1139.6L1410.6 1140.3L1413.5 1141.2L1416.4 1142.0L1419.3 1142.9L1422.1 1143.8L1425.0 1144.8L1427.8 1145.8L1430.7 1146.8L1433.5 1147.8L1436.4 1148.8L1439.2 1149.9L1442.0 1151.0L1444.8 1152.1L1447.7 1153.2L1450.5 1154.3L1453.3 1155.5L1456.1 1156.6L1458.9 1157.8L1461.8 1158.9L1464.6 1160.1L1467.4 1161.3L1470.2 1162.4L1473.0 1163.6L1475.9 1164.8L1478.7 1165.9L1481.5 1167.1L1484.3 1168.2L1487.2 1169.3L1490.0 1170.4L1492.8 1171.5L1495.7 1172.6L1498.5 1173.7L1501.3 1174.7L1504.2 1175.7L1507.0 1176.7L1509.9 1177.7L1512.8 1178.6L1515.6 1179.5L1518.5 1180.4L1521.4 1181.2L1524.3 1182.0L1527.2 1182.8L1530.1 1183.5L1533.0 1184.2L1536.0 1184.9L1538.9 1185.5L1541.8 1186.0L1544.8 1186.5L1547.7 1187.0L1550.7 1187.4L1553.7 1187.7L1556.7 1188.0L1559.7 1187.7L1562.7 1187.4L1565.7 1187.1L1568.7 1186.8L1571.8 1186.5L1574.8 1186.2L1577.8 1185.9L1580.8 1185.6L1583.8 1185.4L1586.8 1185.1L1589.8 1184.9L1592.8 1184.7L1595.9 1184.4L1598.9 1184.2L1601.9 1184.0L1604.9 1183.8L1607.9 1183.6L1610.9 1183.4L1613.9 1183.2L1617.0 1183.0L1620.0 1182.9L1623.0 1182.7L1626.0 1182.5L1629.0 1182.4L1632.0 1182.2L1635.1 1182.1L1638.1 1182.0L1641.1 1181.9L1644.1 1181.7L1647.1 1181.6L1650.1 1181.5L1653.2 1181.4L1656.2 1181.3L1659.2 1181.2L1662.2 1181.1L1665.2 1181.1L1668.3 1181.0L1671.3 1180.9L1674.3 1180.9L1677.3 1180.8L1680.3 1180.8L1683.4 1180.7L1686.4 1180.7L1689.4 1180.7L1692.4 1180.6L1695.4 1180.6L1698.5 1180.6L1701.5 1180.6L1704.5 1180.6L1707.5 1180.6L1710.5 1180.6L1713.6 1180.6L1716.6 1180.6L1719.6 1180.6L1722.6 1180.6L1725.7 1180.6L1728.7 1180.7L1731.7 1180.7L1734.7 1180.7L1737.7 1180.8L1740.8 1180.8L1743.8 1180.9L1746.8 1180.9L1749.8 1181.0L1752.8 1181.1L1755.9 1181.1L1758.9 1181.2L1761.9 1181.3L1764.9 1181.3L1768.0 1181.4L1771.0 1181.5L1774.0 1181.6L1777.0 1181.7L1780.0 1181.8L1783.1 1181.9L1786.1 1181.9L1789.1 1182.0L1792.1 1182.2L1795.2 1182.3L1798.2 1182.4L1801.2 1182.5L1804.2 1182.6L1807.2 1182.7L1810.3 1182.8L1813.3 1182.9L1816.3 1183.1L1819.3 1183.2L1822.4 1183.3L1825.4 1183.5L1828.4 1183.6L1831.4 1183.7L1834.4 1183.8L1837.5 1184.0L1840.5 1184.1L1843.5 1184.3L1846.5 1184.4L1849.5 1184.5L1852.6 1184.7L1855.6 1184.8L1858.6 1185.0L1861.6 1185.1L1864.6 1185.3L1867.7 1185.4L1870.7 1185.6L1873.7 1185.7L1876.7 1185.9L1879.7 1186.0L1882.7 1186.2L1885.8 1186.4L1888.8 1186.5L1891.8 1186.7L1894.8 1186.8L1897.8 1187.0L1900.8 1187.1L1903.9 1187.3L1906.9 1187.4L1909.9 1187.6L1912.9 1187.8L1915.9 1187.9L1918.9 1188.1L1922.0 1188.2L1925.0 1188.4L1928.0 1188.5L1931.0 1188.7" fill="none" stroke="#0072BD" stroke-width="5.6" stroke-linejoin="round"/><path d="M236.0 1179.6L239.0 1179.3L242.0 1179.1L245.0 1178.8L247.9 1178.6L250.9 1178.3L253.9 1178.0L256.9 1177.7L259.9 1177.4L262.9 1177.2L265.8 1176.9L268.8 1176.6L271.8 1176.3L274.8 1176.0L277.8 1175.7L280.8 1175.4L283.8 1175.0L286.7 1174.7L289.7 1174.4L292.7 1174.1L295.7 1173.7L298.7 1173.4L301.6 1173.1L304.6 1172.7L307.6 1172.4L310.6 1172.0L313.6 1171.6L316.6 1171.3L319.5 1170.9L322.5 1170.5L325.5 1170.2L328.5 1169.8L331.5 1169.4L334.4 1169.0L337.4 1168.6L340.4 1168.2L343.4 1167.8L346.3 1167.4L349.3 1166.9L352.3 1166.5L355.2 1166.1L358.2 1165.6L361.2 1165.2L364.2 1164.8L367.1 1164.3L370.1 1163.8L373.1 1163.4L376.0 1162.9L379.0 1162.4L382.0 1161.9L384.9 1161.5L387.9 1161.0L390.8 1160.5L393.8 1160.0L396.8 1159.4L399.7 1158.9L402.7 1158.4L405.6 1157.9L408.6 1157.3L411.5 1156.8L414.5 1156.2L417.4 1155.7L420.4 1155.1L423.3 1154.5L426.3 1154.0L429.2 1153.4L432.2 1152.8L435.1 1152.2L438.0 1151.6L441.0 1151.0L443.9 1150.4L446.9 1149.7L449.8 1149.1L452.7 1148.5L455.7 1147.8L458.6 1147.2L461.5 1146.5L464.4 1145.9L467.4 1145.2L470.3 1144.5L473.2 1143.8L476.1 1143.1L479.0 1142.4L481.9 1141.7L484.9 1141.0L487.8 1140.3L490.7 1139.5L493.6 1138.8L496.5 1138.0L499.4 1137.3L502.3 1136.5L505.2 1135.7L508.1 1135.0L511.0 1134.2L513.9 1133.4L516.8 1132.6L519.6 1131.8L522.5 1130.9L525.4 1130.1L528.3 1129.3L531.2 1128.4L534.0 1127.6L536.9 1126.7L539.8 1125.8L542.7 1124.9L545.5 1124.1L548.4 1123.2L551.3 1122.3L554.1 1121.3L557.0 1120.4L559.8 1119.5L562.7 1118.5L565.5 1117.6L568.4 1116.6L571.2 1115.7L574.0 1114.7L576.9 1113.7L579.7 1112.7L582.5 1111.7L585.4 1110.7L588.2 1109.7L591.0 1108.6L593.8 1107.6L596.7 1106.5L599.5 1105.5L602.3 1104.4L605.1 1103.3L607.9 1102.2L610.7 1101.1L613.5 1100.0L616.2 1098.9L619.0 1097.7L621.8 1096.6L624.6 1095.4L627.3 1094.3L630.1 1093.1L632.9 1091.9L635.6 1090.7L638.4 1089.5L641.1 1088.3L643.8 1087.0L646.6 1085.8L649.3 1084.5L652.0 1083.3L654.7 1082.0L657.4 1080.7L660.1 1079.4L662.8 1078.1L665.5 1076.7L668.2 1075.4L670.9 1074.0L673.5 1072.7L676.2 1071.3L678.8 1069.9L681.5 1068.5L684.1 1067.1L686.8 1065.6L689.4 1064.2L692.0 1062.7L694.6 1061.3L697.2 1059.8L699.8 1058.3L702.4 1056.8L705.0 1055.3L707.5 1053.7L710.1 1052.2L712.6 1050.6L715.2 1049.0L717.7 1047.4L720.3 1045.8L722.8 1044.2L725.3 1042.6L727.8 1041.0L730.3 1039.3L732.8 1037.7L735.3 1036.0L737.8 1034.3L740.2 1032.6L742.7 1030.9L745.2 1029.2L747.6 1027.5L750.1 1025.7L752.5 1024.0L754.9 1022.3L757.4 1020.5L759.8 1018.7L762.2 1016.9L764.6 1015.2L767.0 1013.4L769.4 1011.6L771.8 1009.8L774.2 1007.9L776.6 1006.1L779.0 1004.3L781.4 1002.4L783.7 1000.6L786.1 998.7L788.5 996.9L790.8 995.0L793.2 993.2L795.5 991.3L797.9 989.4L800.2 987.5L802.5 985.6L804.9 983.7L807.2 981.8L809.5 979.9L811.8 978.0L814.2 976.1L816.5 974.2L818.8 972.3L821.1 970.3L823.4 968.4L825.7 966.5L828.0 964.5L830.3 962.6L832.6 960.6L834.8 958.7L837.1 956.7L839.4 954.8L841.7 952.8L843.9 950.8L846.2 948.8L848.5 946.9L850.7 944.9L853.0 942.9L855.2 940.9L857.5 938.9L859.7 936.9L861.9 934.9L864.2 932.9L866.4 930.9L868.6 928.9L870.8 926.8L873.0 924.8L875.2 922.8L877.4 920.8L879.6 918.7L881.8 916.7L884.0 914.6L886.2 912.6L888.4 910.5L890.5 908.5L892.7 906.4L894.9 904.3L897.0 902.3L899.2 900.2L901.3 898.1L903.5 896.0L905.6 893.9L907.7 891.8L909.9 889.8L912.0 887.7L914.1 885.6L916.2 883.5L918.4 881.4L920.5 879.3L922.6 877.2L924.7 875.1L926.9 873.0L929.0 870.9L931.1 868.8L933.3 866.7L935.4 864.7L937.6 862.6L939.7 860.5L941.9 858.5L944.1 856.4L946.2 854.4L948.4 852.4L950.6 850.3L952.8 848.3L955.1 846.3L957.3 844.3L959.5 842.4L961.8 840.4L964.0 838.4L966.3 836.5L968.6 834.6L970.9 832.7L973.2 830.8L975.6 828.9L977.9 827.0L980.3 825.2L982.7 823.3L985.1 821.5L987.6 819.7L990.0 817.9L992.5 816.2L995.0 814.5L997.5 812.7L1000.0 811.1L1002.6 809.4L1005.2 807.7L1007.8 806.1L1010.4 804.5L1013.1 803.0L1015.8 801.5L1018.5 800.0L1021.2 798.6L1023.9 797.2L1026.7 795.9L1029.4 794.7L1032.2 793.5L1035.0 792.3L1037.8 791.3L1040.6 790.3L1043.5 789.4L1046.3 788.5L1049.1 787.8L1052.0 787.1L1054.9 786.6L1057.7 786.1L1060.6 785.7L1063.5 785.5L1066.4 785.3L1069.3 785.3L1072.2 785.3L1075.1 785.5L1078.0 785.8L1080.9 786.3L1083.8 786.8L1086.7 787.5L1089.6 788.4L1092.5 789.3L1095.3 790.4L1098.2 791.6L1101.0 792.8L1103.8 794.2L1106.6 795.6L1109.3 797.1L1112.0 798.6L1114.6 800.1L1117.2 801.7L1119.8 803.2L1122.4 804.7L1125.0 806.0L1127.6 807.3L1130.2 808.4L1132.9 809.3L1135.6 810.0L1138.6 810.8L1141.5 811.7L1144.4 812.7L1147.2 813.9L1149.9 815.2L1152.5 816.6L1155.1 818.1L1157.6 819.8L1160.0 821.5L1162.4 823.3L1164.7 825.1L1166.9 827.1L1169.2 829.1L1171.3 831.2L1173.4 833.3L1175.5 835.5L1177.5 837.8L1179.5 840.0L1181.5 842.3L1183.4 844.6L1185.3 847.0L1187.2 849.4L1189.0 851.7L1190.8 854.1L1192.6 856.5L1194.4 859.0L1196.1 861.4L1197.8 863.9L1199.5 866.4L1201.2 868.8L1202.8 871.4L1204.4 873.9L1206.0 876.4L1207.6 879.0L1209.1 881.5L1210.6 884.1L1212.1 886.7L1213.6 889.3L1215.1 891.9L1216.5 894.5L1217.9 897.2L1219.3 899.8L1220.7 902.5L1222.1 905.2L1223.5 907.9L1224.8 910.6L1226.1 913.3L1227.4 916.0L1228.7 918.7L1230.0 921.4L1231.3 924.2L1232.6 926.9L1233.8 929.7L1235.1 932.4L1236.3 935.2L1237.6 937.9L1238.8 940.7L1240.1 943.4L1241.3 946.2L1242.6 948.9L1243.8 951.7L1245.1 954.4L1246.4 957.1L1247.6 959.8L1248.9 962.5L1250.2 965.2L1251.6 967.9L1252.9 970.6L1254.2 973.2L1255.6 975.9L1257.0 978.5L1258.5 981.0L1260.0 983.5L1261.7 985.8L1263.5 988.1L1265.5 990.2L1267.6 992.1L1270.0 993.8L1272.6 995.3L1275.5 996.6L1278.7 997.6L1281.4 996.4L1284.1 995.1L1286.7 993.7L1289.4 992.3L1292.0 990.8L1294.6 989.3L1297.2 987.7L1299.8 986.0L1302.3 984.3L1304.7 982.6L1307.2 980.7L1309.5 978.8L1311.9 976.9L1314.1 974.9L1316.3 972.8L1318.4 970.7L1320.5 968.5L1322.5 966.3L1324.4 964.0L1326.2 961.6L1328.0 959.2L1329.8 956.8L1331.4 954.3L1333.1 951.8L1334.6 949.2L1336.1 946.6L1337.6 944.0L1339.0 941.3L1340.3 938.7L1341.6 936.0L1342.9 933.2L1344.1 930.5L1345.3 927.7L1346.4 925.0L1347.5 922.2L1348.6 919.4L1349.6 916.6L1350.7 913.7L1351.7 910.9L1352.7 908.1L1353.7 905.2L1354.7 902.4L1355.7 899.5L1356.7 896.7L1357.7 893.9L1358.7 891.0L1359.8 888.2L1360.8 885.4L1362.0 882.6L1363.1 879.7L1364.3 876.9L1365.4 874.2L1366.6 871.4L1367.9 868.6L1369.1 865.8L1370.4 863.1L1371.6 860.3L1372.9 857.6L1374.1 854.8L1375.4 852.1L1376.6 849.3L1377.9 846.6L1379.1 843.8L1380.3 841.1L1381.5 838.3L1382.7 835.6L1383.9 832.9L1385.1 830.1L1386.4 827.4L1387.6 824.7L1388.8 822.0L1390.0 819.2L1391.2 816.5L1392.4 813.8L1393.7 811.1L1394.9 808.4L1396.2 805.7L1397.4 803.0L1398.7 800.3L1400.0 797.7L1401.3 795.0L1402.7 792.3L1404.0 789.6L1405.4 787.0L1406.8 784.3L1408.2 781.7L1409.6 779.0L1411.1 776.4L1412.6 773.8L1414.1 771.2L1415.6 768.5L1417.2 765.9L1418.8 763.3L1420.5 760.8L1422.1 758.2L1423.9 755.6L1425.6 753.0L1427.4 750.5L1429.2 748.0L1431.1 745.5L1433.0 743.1L1435.0 740.7L1437.0 738.4L1439.0 736.1L1441.2 733.9L1443.3 731.8L1445.5 729.8L1447.8 727.8L1450.2 726.0L1452.5 724.3L1455.0 722.6L1457.5 721.1L1460.1 719.7L1462.8 718.4L1465.5 717.3L1468.3 716.3L1471.2 715.5L1474.1 714.8L1477.1 714.3L1480.1 713.9L1483.1 713.7L1486.1 713.7L1489.1 713.9L1492.1 714.2L1495.0 714.8L1497.9 715.5L1500.6 716.4L1503.3 717.5L1506.0 718.8L1508.5 720.3L1511.0 721.9L1513.4 723.6L1515.8 725.4L1518.1 727.4L1520.4 729.4L1522.6 731.5L1524.8 733.7L1527.0 735.9L1529.2 738.2L1531.3 740.5L1533.4 742.8L1535.6 745.1L1537.7 747.4L1539.8 749.7L1541.9 751.9L1544.1 754.0L1546.2 756.1L1548.4 758.1L1550.6 760.0L1552.9 761.8L1555.2 763.6L1557.6 765.2L1560.0 766.7L1562.4 768.1L1565.0 769.4L1567.6 770.5L1570.2 771.6L1573.0 772.5L1575.8 773.3L1578.7 774.0L1581.6 774.6L1584.6 775.2L1587.6 775.8L1590.6 776.4L1593.5 777.0L1596.5 777.7L1599.5 778.4L1602.4 779.1L1605.3 779.9L1608.3 780.7L1611.2 781.5L1614.1 782.4L1617.0 783.3L1619.8 784.2L1622.7 785.2L1625.5 786.2L1628.4 787.2L1631.2 788.3L1634.0 789.3L1636.8 790.5L1639.6 791.6L1642.4 792.8L1645.1 794.0L1647.9 795.2L1650.6 796.5L1653.4 797.7L1656.1 799.0L1658.8 800.4L1661.5 801.7L1664.2 803.1L1666.8 804.5L1669.5 805.9L1672.2 807.3L1674.8 808.8L1677.4 810.2L1680.0 811.7L1682.7 813.2L1685.3 814.8L1687.8 816.3L1690.4 817.9L1693.0 819.4L1695.5 821.0L1698.1 822.6L1700.6 824.2L1703.1 825.9L1705.7 827.5L1708.2 829.2L1710.7 830.8L1713.2 832.5L1715.6 834.2L1718.1 835.9L1720.6 837.6L1723.0 839.4L1725.5 841.1L1727.9 842.8L1730.3 844.6L1732.8 846.4L1735.2 848.2L1737.6 849.9L1740.0 851.7L1742.4 853.6L1744.8 855.4L1747.2 857.2L1749.5 859.0L1751.9 860.9L1754.3 862.7L1756.6 864.6L1759.0 866.5L1761.3 868.3L1763.7 870.2L1766.0 872.1L1768.4 874.0L1770.7 875.9L1773.0 877.8L1775.4 879.7L1777.7 881.6L1780.0 883.5L1782.3 885.4L1784.6 887.4L1786.9 889.3L1789.3 891.2L1791.6 893.2L1793.9 895.1L1796.2 897.0L1798.5 899.0L1800.8 900.9L1803.1 902.9L1805.4 904.8L1807.7 906.8L1810.0 908.7L1812.2 910.7L1814.5 912.6L1816.8 914.6L1819.1 916.5L1821.4 918.5L1823.7 920.5L1826.0 922.4L1828.3 924.4L1830.6 926.3L1832.9 928.2L1835.2 930.2L1837.5 932.1L1839.8 934.1L1842.1 936.0L1844.4 937.9L1846.8 939.9L1849.1 941.8L1851.4 943.7L1853.7 945.6L1856.0 947.5L1858.4 949.4L1860.7 951.3L1863.0 953.2L1865.4 955.1L1867.7 957.0L1870.1 958.9L1872.4 960.8L1874.8 962.6L1877.2 964.5L1879.5 966.3L1881.9 968.2L1884.3 970.0L1886.7 971.8L1889.1 973.6L1891.5 975.4L1893.9 977.2L1896.3 979.0L1898.7 980.8L1901.2 982.6L1903.6 984.3L1906.1 986.1L1908.5 987.8L1911.0 989.5L1913.5 991.3L1915.9 993.0L1918.4 994.6L1920.9 996.3L1923.4 998.0L1925.9 999.6L1928.5 1001.3L1931.0 1002.9" fill="none" stroke="#D95319" stroke-width="5.6" stroke-linejoin="round" stroke-dasharray="4.3 2.6"/><path d="M236.0 1196.6L239.0 1196.4L242.0 1196.2L244.9 1196.0L247.9 1195.8L250.9 1195.7L253.9 1195.5L256.9 1195.3L259.8 1195.1L262.8 1194.9L265.8 1194.7L268.8 1194.5L271.8 1194.3L274.8 1194.1L277.8 1193.9L280.8 1193.8L283.7 1193.6L286.7 1193.4L289.7 1193.2L292.7 1193.0L295.7 1192.8L298.7 1192.6L301.7 1192.4L304.7 1192.2L307.7 1192.0L310.7 1191.8L313.7 1191.6L316.7 1191.4L319.7 1191.2L322.7 1191.0L325.7 1190.8L328.7 1190.6L331.7 1190.4L334.7 1190.2L337.7 1190.0L340.7 1189.8L343.7 1189.5L346.7 1189.3L349.7 1189.1L352.7 1188.9L355.7 1188.7L358.7 1188.4L361.7 1188.2L364.7 1188.0L367.7 1187.8L370.7 1187.5L373.7 1187.3L376.7 1187.0L379.7 1186.8L382.7 1186.6L385.7 1186.3L388.7 1186.1L391.7 1185.8L394.7 1185.6L397.7 1185.3L400.7 1185.0L403.7 1184.8L406.7 1184.5L409.7 1184.2L412.7 1184.0L415.7 1183.7L418.7 1183.4L421.7 1183.1L424.7 1182.8L427.7 1182.6L430.7 1182.3L433.7 1182.0L436.6 1181.7L439.6 1181.4L442.6 1181.1L445.6 1180.7L448.6 1180.4L451.6 1180.1L454.6 1179.8L457.6 1179.5L460.6 1179.1L463.6 1178.8L466.6 1178.4L469.6 1178.1L472.6 1177.7L475.5 1177.4L478.5 1177.0L481.5 1176.7L484.5 1176.3L487.5 1175.9L490.5 1175.5L493.5 1175.2L496.4 1174.8L499.4 1174.4L502.4 1174.0L505.4 1173.6L508.4 1173.2L511.3 1172.8L514.3 1172.3L517.3 1171.9L520.3 1171.5L523.2 1171.0L526.2 1170.6L529.2 1170.2L532.1 1169.7L535.1 1169.2L538.1 1168.8L541.0 1168.3L544.0 1167.8L547.0 1167.4L549.9 1166.9L552.9 1166.4L555.8 1165.9L558.8 1165.4L561.8 1164.8L564.7 1164.3L567.7 1163.8L570.6 1163.3L573.6 1162.7L576.5 1162.2L579.5 1161.6L582.4 1161.1L585.4 1160.5L588.3 1159.9L591.2 1159.3L594.2 1158.8L597.1 1158.2L600.1 1157.6L603.0 1157.0L605.9 1156.3L608.9 1155.7L611.8 1155.1L614.7 1154.4L617.6 1153.8L620.6 1153.1L623.5 1152.5L626.4 1151.8L629.3 1151.1L632.2 1150.4L635.1 1149.7L638.1 1149.0L641.0 1148.3L643.9 1147.6L646.8 1146.9L649.7 1146.2L652.6 1145.4L655.5 1144.7L658.4 1143.9L661.3 1143.1L664.2 1142.4L667.1 1141.6L670.0 1140.8L672.8 1140.0L675.7 1139.2L678.6 1138.3L681.5 1137.5L684.4 1136.7L687.2 1135.8L690.1 1135.0L693.0 1134.1L695.8 1133.3L698.7 1132.4L701.6 1131.5L704.4 1130.6L707.3 1129.7L710.2 1128.8L713.0 1127.9L715.9 1127.0L718.7 1126.0L721.6 1125.1L724.4 1124.2L727.3 1123.2L730.1 1122.3L733.0 1121.3L735.8 1120.4L738.7 1119.4L741.5 1118.4L744.4 1117.5L747.2 1116.5L750.1 1115.5L752.9 1114.5L755.7 1113.6L758.6 1112.6L761.4 1111.6L764.2 1110.6L767.1 1109.6L769.9 1108.6L772.8 1107.6L775.6 1106.6L778.4 1105.6L781.3 1104.5L784.1 1103.5L786.9 1102.5L789.8 1101.5L792.6 1100.5L795.4 1099.5L798.2 1098.4L801.1 1097.4L803.9 1096.4L806.7 1095.4L809.6 1094.4L812.4 1093.4L815.2 1092.3L818.1 1091.3L820.9 1090.3L823.7 1089.3L826.6 1088.3L829.4 1087.3L832.2 1086.2L835.1 1085.2L837.9 1084.2L840.8 1083.2L843.6 1082.2L846.4 1081.2L849.3 1080.2L852.1 1079.2L855.0 1078.2L857.8 1077.2L860.6 1076.3L863.5 1075.3L866.3 1074.3L869.2 1073.3L872.0 1072.4L874.9 1071.4L877.7 1070.4L880.6 1069.5L883.4 1068.5L886.3 1067.6L889.1 1066.6L892.0 1065.7L894.9 1064.8L897.7 1063.9L900.6 1063.0L903.5 1062.1L906.3 1061.2L909.2 1060.4L912.1 1059.5L915.0 1058.7L917.8 1057.9L920.7 1057.1L923.6 1056.4L926.5 1055.6L929.4 1054.9L932.3 1054.2L935.2 1053.6L938.1 1053.0L941.0 1052.4L943.9 1051.8L946.8 1051.3L949.7 1050.7L952.7 1050.3L955.6 1049.8L958.5 1049.5L961.5 1049.1L964.4 1048.8L967.4 1048.5L970.3 1048.3L973.3 1048.1L976.2 1047.9L979.2 1047.8L982.2 1047.8L985.2 1047.8L988.2 1047.8L991.2 1047.9L994.1 1048.1L997.2 1048.3L1000.2 1048.5L1003.2 1048.8L1006.2 1049.1L1009.2 1049.4L1012.2 1049.8L1015.2 1050.2L1018.2 1050.6L1021.3 1051.1L1024.3 1051.5L1027.3 1052.0L1030.3 1052.5L1033.3 1053.0L1036.3 1053.5L1039.3 1053.9L1042.3 1054.4L1045.2 1054.9L1048.2 1055.3L1051.2 1055.8L1054.1 1056.2L1057.1 1056.6L1060.0 1057.0L1063.1 1056.4L1066.1 1055.8L1069.1 1055.0L1072.0 1054.1L1074.8 1053.2L1077.7 1052.1L1080.4 1051.0L1083.2 1049.7L1085.8 1048.4L1088.5 1047.1L1091.1 1045.6L1093.7 1044.1L1096.2 1042.6L1098.8 1041.0L1101.3 1039.3L1103.7 1037.6L1106.2 1035.9L1108.6 1034.1L1111.1 1032.3L1113.5 1030.4L1115.9 1028.6L1118.3 1026.7L1120.6 1024.8L1123.0 1022.9L1125.4 1021.0L1127.8 1019.2L1130.2 1017.3L1132.6 1015.4L1135.0 1013.6L1137.4 1011.7L1139.8 1009.9L1142.3 1008.1L1144.8 1006.4L1147.2 1004.7L1149.7 1003.0L1152.2 1001.3L1154.8 999.6L1157.3 998.0L1159.8 996.4L1162.4 994.8L1165.0 993.3L1167.6 991.7L1170.2 990.2L1172.8 988.7L1175.4 987.2L1178.0 985.8L1180.7 984.3L1183.3 982.9L1186.0 981.5L1188.7 980.1L1191.3 978.7L1194.0 977.3L1196.7 976.0L1199.4 974.6L1202.2 973.3L1204.9 972.0L1207.6 970.7L1210.4 969.4L1213.1 968.1L1215.9 966.8L1218.6 965.6L1221.4 964.4L1224.2 963.2L1227.0 962.1L1229.8 961.0L1232.7 960.0L1235.5 959.1L1238.4 958.2L1241.3 957.4L1244.2 956.7L1247.1 956.0L1250.1 955.5L1253.1 955.1L1256.1 954.8L1259.1 954.6L1262.2 954.5L1265.2 954.5L1268.3 954.6L1271.4 954.9L1274.4 955.3L1277.4 955.7L1280.4 956.3L1283.4 957.1L1286.3 957.9L1289.1 958.9L1291.9 959.9L1294.7 961.1L1297.4 962.4L1300.1 963.8L1302.7 965.2L1305.4 966.7L1307.9 968.2L1310.5 969.8L1313.1 971.4L1315.6 973.1L1318.1 974.8L1320.7 976.4L1323.2 978.1L1325.8 979.7L1328.3 981.3L1330.9 982.9L1333.5 984.4L1336.1 985.9L1338.8 987.3L1341.4 988.6L1344.2 989.8L1346.9 990.9L1349.8 991.9L1352.7 992.8L1355.6 993.6L1358.6 994.2L1361.3 992.6L1364.1 991.2L1366.9 989.9L1369.8 988.7L1372.6 987.6L1375.5 986.7L1378.4 985.8L1381.3 985.1L1384.3 984.5L1387.2 984.0L1390.2 983.6L1393.1 983.3L1396.1 983.1L1399.1 983.0L1402.0 983.1L1405.0 983.2L1408.0 983.4L1410.9 983.8L1413.8 984.2L1416.8 984.8L1419.7 985.4L1422.6 986.1L1425.4 987.0L1428.3 987.8L1431.1 988.8L1434.0 989.8L1436.8 990.9L1439.5 992.1L1442.3 993.3L1445.0 994.6L1447.7 995.9L1450.4 997.3L1453.1 998.7L1455.8 1000.2L1458.4 1001.7L1461.0 1003.2L1463.6 1004.8L1466.2 1006.4L1468.8 1008.0L1471.4 1009.7L1473.9 1011.3L1476.4 1013.0L1478.9 1014.8L1481.4 1016.5L1483.9 1018.2L1486.4 1019.9L1488.9 1021.7L1491.3 1023.4L1493.8 1025.2L1496.2 1026.9L1498.7 1028.6L1501.1 1030.3L1503.5 1032.0L1505.9 1033.7L1509.0 1034.4L1512.1 1034.9L1515.2 1035.4L1518.3 1035.7L1521.4 1035.9L1524.4 1036.0L1527.4 1036.0L1530.3 1035.9L1533.3 1035.6L1536.2 1035.2L1539.1 1034.7L1541.9 1034.1L1544.7 1033.3L1547.5 1032.4L1550.2 1031.4L1552.9 1030.3L1555.5 1029.0L1558.1 1027.5L1560.7 1026.0L1563.2 1024.3L1565.7 1022.5L1568.2 1020.6L1570.6 1018.7L1573.0 1016.7L1575.4 1014.6L1577.8 1012.5L1580.2 1010.4L1582.6 1008.3L1585.0 1006.3L1587.4 1004.2L1589.8 1002.2L1592.3 1000.2L1594.7 998.4L1597.2 996.6L1599.8 994.9L1602.4 993.3L1605.0 991.8L1607.6 990.4L1610.3 989.1L1613.0 987.9L1615.7 986.8L1618.5 985.8L1621.3 984.8L1624.1 984.0L1626.9 983.2L1629.8 982.5L1632.6 981.9L1635.5 981.4L1638.4 980.9L1641.3 980.5L1644.3 980.2L1647.2 980.0L1650.2 979.8L1653.1 979.7L1656.1 979.7L1659.1 979.7L1662.1 979.8L1665.1 980.0L1668.1 980.2L1671.1 980.4L1674.1 980.8L1677.1 981.1L1680.1 981.6L1683.1 982.1L1686.1 982.6L1689.1 983.2L1692.1 983.8L1695.1 984.5L1698.0 985.2L1701.0 986.0L1703.9 986.8L1706.9 987.6L1709.8 988.5L1712.7 989.4L1715.5 990.3L1718.4 991.3L1721.3 992.3L1724.1 993.3L1726.9 994.3L1729.8 995.4L1732.6 996.5L1735.4 997.7L1738.1 998.9L1740.9 1000.0L1743.7 1001.3L1746.4 1002.5L1749.2 1003.7L1751.9 1005.0L1754.6 1006.3L1757.4 1007.6L1760.1 1008.9L1762.8 1010.3L1765.5 1011.6L1768.2 1013.0L1770.8 1014.4L1773.5 1015.8L1776.2 1017.2L1778.9 1018.6L1781.6 1020.0L1784.2 1021.4L1786.9 1022.9L1789.5 1024.3L1792.2 1025.8L1794.9 1027.2L1797.5 1028.7L1800.2 1030.1L1802.8 1031.5L1805.5 1033.0L1808.1 1034.4L1810.8 1035.9L1813.5 1037.3L1816.1 1038.7L1818.8 1040.2L1821.5 1041.6L1824.1 1043.0L1826.8 1044.4L1829.5 1045.8L1832.2 1047.1L1834.9 1048.5L1837.6 1049.9L1840.3 1051.2L1843.0 1052.5L1845.7 1053.9L1848.4 1055.2L1851.1 1056.5L1853.9 1057.8L1856.6 1059.0L1859.3 1060.3L1862.1 1061.6L1864.8 1062.8L1867.5 1064.1L1870.3 1065.3L1873.0 1066.6L1875.8 1067.8L1878.5 1069.0L1881.3 1070.3L1884.0 1071.5L1886.8 1072.7L1889.6 1073.9L1892.3 1075.2L1895.1 1076.4L1897.8 1077.6L1900.6 1078.8L1903.4 1080.0L1906.1 1081.2L1908.9 1082.4L1911.7 1083.6L1914.4 1084.9L1917.2 1086.1L1920.0 1087.3L1922.7 1088.5L1925.5 1089.7L1928.2 1091.0L1931.0 1092.2" fill="none" stroke="#EDB120" stroke-width="5.6" stroke-linejoin="round" stroke-dasharray="14.5 13"/></g>
<rect x="472.5" y="115.5" width="173" height="193" fill="#fff" stroke="#262626" stroke-width="1"/>
<path d="M478.9 149.5H548.9" stroke="#0072BD" stroke-width="5.6"/>
<text x="553.9" y="168.5" class="lg">Fi</text>
<path d="M478.9 211.7H548.9" stroke="#D95319" stroke-width="5.6" stroke-dasharray="4.3 2.6"/>
<text x="553.9" y="230.7" class="lg">Gpf</text>
<path d="M478.9 273.9H548.9" stroke="#EDB120" stroke-width="5.6" stroke-dasharray="14.5 13"/>
<text x="553.9" y="292.9" class="lg">Wf</text>
<rect x="322.5" y="734.5" width="138" height="193" fill="#fff" stroke="#262626" stroke-width="1"/>
<path d="M328.1 768.5H398.1" stroke="#0072BD" stroke-width="5.6"/>
<text x="401.6" y="787.5" class="lg">W</text>
<path d="M328.1 830.7H398.1" stroke="#D95319" stroke-width="5.6" stroke-dasharray="4.3 2.6"/>
<text x="401.6" y="849.7" class="lg">L</text>
<path d="M328.1 892.9H398.1" stroke="#EDB120" stroke-width="5.6" stroke-dasharray="14.5 13"/>
<text x="403.1" y="913.4" class="eps">ϵ</text>
<text x="1083.5" y="1358.5" text-anchor="middle" class="lb">Frequencies (GHz)</text>
<text transform="translate(79.5 660) rotate(-90)" text-anchor="middle" class="lb">Mean elementary effect values</text>
</svg>
</body></html>
